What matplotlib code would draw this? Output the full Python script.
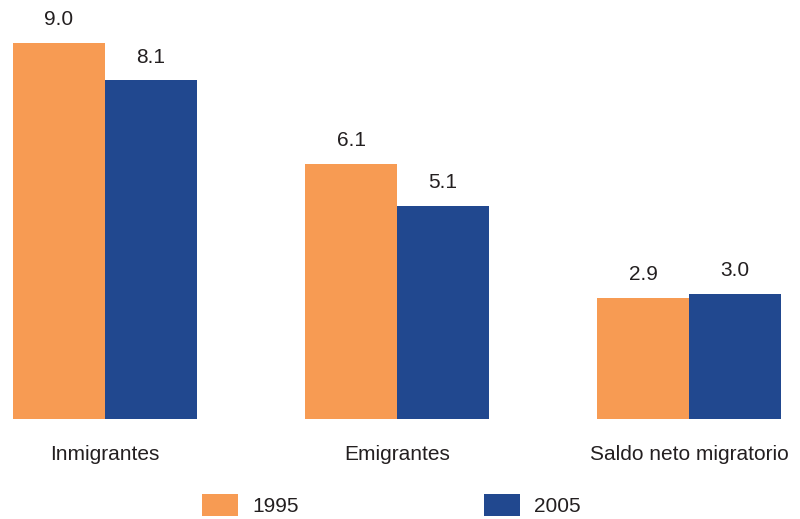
import matplotlib
matplotlib.use("Agg")
import matplotlib.pyplot as plt
import numpy as np

categories = ["Inmigrantes", "Emigrantes", "Saldo neto migratorio"]
years = ["1995", "2005"]
values_1995 = [9.0, 6.1, 2.9]
values_2005 = [8.1, 5.1, 3.0]

orange = "#F79B53"
blue = "#21488F"
text_color = "#231F20"

plt.rcParams["font.family"] = ["Liberation Sans", "DejaVu Sans"]

fig = plt.figure(figsize=(8.0, 5.19), dpi=100)
ax = fig.add_axes([0, 1 - 419 / 519, 1, 419 / 519])

x = np.arange(len(categories))
w = 92 / 292
b1 = ax.bar(x - w / 2, values_1995, w, color=orange, label=years[0])
b2 = ax.bar(x + w / 2, values_2005, w, color=blue, label=years[1])

for bars in (b1, b2):
    ax.bar_label(bars, fmt="%.1f", padding=10, fontsize=15, color=text_color)

ax.set_xlim(-105 / 292, 695 / 292)
ax.set_ylim(0, 419 / 41.8)
ax.axis("off")

for xi, name in zip(x, categories):
    ax.text(xi, -0.85, name, ha="center", va="center", fontsize=15, color=text_color)

fig.legend(handles=[b1, b2], labels=years, loc="center left",
           bbox_to_anchor=(202 / 800, 1 - 505 / 519), ncol=2, frameon=False,
           fontsize=15, handlelength=1.73, handleheight=1.2, handletextpad=0.67,
           columnspacing=8.9, labelcolor=text_color, borderaxespad=0,
           borderpad=0)

fig.savefig("out.png", dpi=100)
